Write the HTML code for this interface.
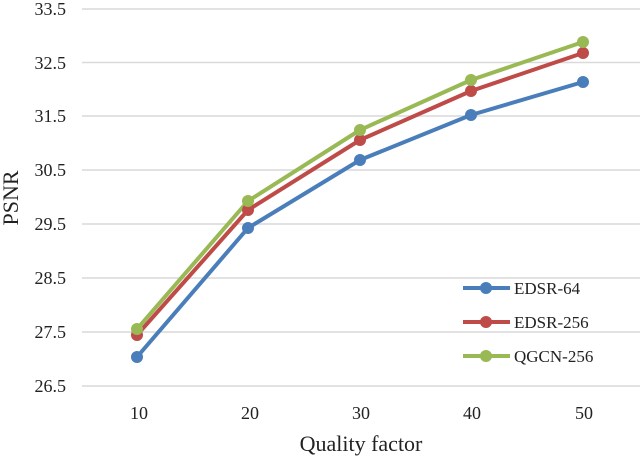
<!DOCTYPE html>
<html><head><meta charset="utf-8"><style>
body{margin:0;background:#fff}
svg{display:block;font-family:"Liberation Serif",serif}
</style></head><body>
<svg width="640" height="457" viewBox="0 0 640 457">
<g stroke="#d9d9d9" stroke-width="1.5">
<line x1="82" x2="640" y1="9" y2="9"/><line x1="82" x2="640" y1="62.5" y2="62.5"/>
<line x1="82" x2="640" y1="116" y2="116"/><line x1="82" x2="640" y1="170" y2="170"/>
<line x1="82" x2="640" y1="224" y2="224"/><line x1="82" x2="640" y1="278" y2="278"/>
<line x1="82" x2="640" y1="332" y2="332"/><line x1="82" x2="640" y1="386" y2="386"/>
</g>
<g font-size="18" fill="#222" text-anchor="end">
<text x="66" y="15">33.5</text><text x="66" y="69">32.5</text><text x="66" y="122">31.5</text>
<text x="66" y="176">30.5</text><text x="66" y="230">29.5</text><text x="66" y="284">28.5</text>
<text x="66" y="338">27.5</text><text x="66" y="392">26.5</text>
</g>
<g font-size="18" fill="#222" text-anchor="middle">
<text x="139" y="419">10</text><text x="250" y="419">20</text><text x="361" y="419">30</text>
<text x="472" y="419">40</text><text x="584" y="419">50</text>
</g>
<text x="361" y="451" font-size="22" fill="#222" text-anchor="middle">Quality factor</text>
<text transform="translate(18,198) rotate(-90)" font-size="22" fill="#222" text-anchor="middle">PSNR</text>
<g fill="none" stroke-width="4" stroke-linejoin="round">
<polyline stroke="#4a7ebb" points="137,357 248,228 360,160 471,115 583,82"/>
<polyline stroke="#be4b48" points="137,335 248,210 360,140 471,91 583,53"/>
<polyline stroke="#98b954" points="137,329 248,201 360,130 471,80 583,42"/>
</g>
<g fill="#4a7ebb"><circle cx="137" cy="357" r="6"/><circle cx="248" cy="228" r="6"/><circle cx="360" cy="160" r="6"/><circle cx="471" cy="115" r="6"/><circle cx="583" cy="82" r="6"/></g>
<g fill="#be4b48"><circle cx="137" cy="335" r="6"/><circle cx="248" cy="210" r="6"/><circle cx="360" cy="140" r="6"/><circle cx="471" cy="91" r="6"/><circle cx="583" cy="53" r="6"/></g>
<g fill="#98b954"><circle cx="137" cy="329" r="6"/><circle cx="248" cy="201" r="6"/><circle cx="360" cy="130" r="6"/><circle cx="471" cy="80" r="6"/><circle cx="583" cy="42" r="6"/></g>
<g stroke-width="4">
<line x1="463" x2="510" y1="288" y2="288" stroke="#4a7ebb"/><circle cx="486" cy="288" r="6" fill="#4a7ebb"/>
<line x1="463" x2="510" y1="322" y2="322" stroke="#be4b48"/><circle cx="486" cy="322" r="6" fill="#be4b48"/>
<line x1="463" x2="510" y1="356" y2="356" stroke="#98b954"/><circle cx="486" cy="356" r="6" fill="#98b954"/>
</g>
<g font-size="17" fill="#222">
<text x="514" y="294">EDSR-64</text><text x="514" y="328">EDSR-256</text><text x="514" y="362">QGCN-256</text>
</g>
</svg>
</body></html>
